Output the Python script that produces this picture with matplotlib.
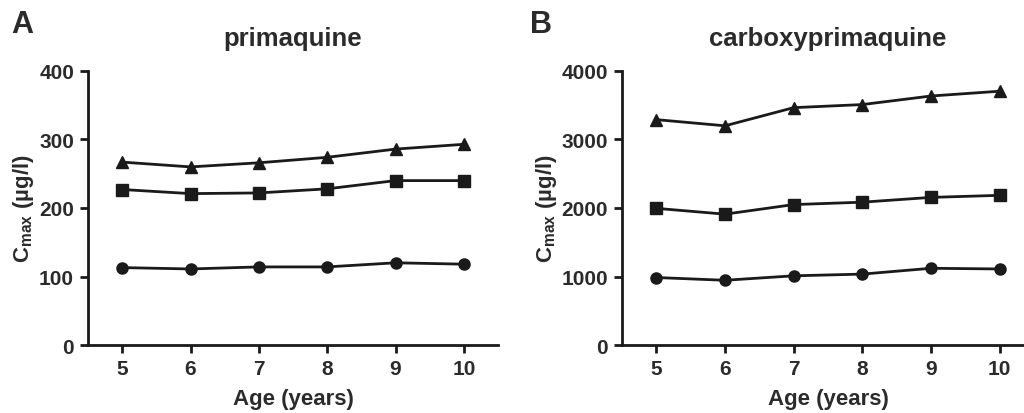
import numpy as np
import matplotlib.pyplot as plt

plt.rcParams['font.family'] = ['Liberation Sans', 'DejaVu Sans']
plt.rcParams['font.weight'] = 'bold'
plt.rcParams['axes.titleweight'] = 'bold'
plt.rcParams['axes.labelweight'] = 'bold'
plt.rcParams['mathtext.fontset'] = 'custom'
plt.rcParams['mathtext.rm'] = 'Liberation Sans:bold'
plt.rcParams['mathtext.bf'] = 'Liberation Sans:bold'

age = [5, 6, 7, 8, 9, 10]

# primaquine Cmax (ug/l)
pq_tri = [267, 260, 266, 274, 286, 293]
pq_sq = [227, 221, 222, 228, 240, 240]
pq_circ = [113, 111, 114, 114, 120, 118]

# carboxyprimaquine Cmax (ug/l)
cpq_tri = [3290, 3200, 3465, 3510, 3635, 3705]
cpq_sq = [1995, 1910, 2050, 2085, 2155, 2185]
cpq_circ = [985, 945, 1010, 1035, 1120, 1110]

txt = '#2b2b2b'

fig = plt.figure(figsize=(10.24, 4.14), dpi=100)
axA = fig.add_axes([88/1024, 1-346/414, 410/1024, 274/414])
axB = fig.add_axes([622/1024, 1-346/414, 412/1024, 274/414])

def style(ax, series, ymax, title, letter, lx):
    for y, m, ms in series:
        ax.plot(age, y, color='#1a1a1a', lw=2, marker=m, markersize=ms, clip_on=False)
    ax.set_xlim(4.5, 10.5)
    ax.set_ylim(0, ymax)
    ax.set_xticks(age)
    ax.set_yticks(np.linspace(0, ymax, 5))
    for s in ['top', 'right']:
        ax.spines[s].set_visible(False)
    for s in ['left', 'bottom']:
        ax.spines[s].set_linewidth(2)
        ax.spines[s].set_color('#1a1a1a')
    ax.tick_params(direction='out', length=6, width=2, color='#1a1a1a',
                   labelsize=15, labelcolor=txt, pad=4)
    ax.set_xlabel('Age (years)', fontsize=16, color=txt, labelpad=7)
    ax.set_ylabel(r'$\mathregular{C_{max}}$ (µg/l)', fontsize=16, color=txt, labelpad=2)
    ax.set_title(title, fontsize=18.5, color=txt, pad=19)
    fig.text(lx, 0.94, letter, fontsize=22, color=txt, ha='left', va='center')

style(axA, [(pq_tri, '^', 8), (pq_sq, 's', 8), (pq_circ, 'o', 8)],
      400, 'primaquine', 'A', 11/1024)
style(axB, [(cpq_tri, '^', 8), (cpq_sq, 's', 8), (cpq_circ, 'o', 8)],
      4000, 'carboxyprimaquine', 'B', 530/1024)

fig.savefig('out.png', dpi=100)
